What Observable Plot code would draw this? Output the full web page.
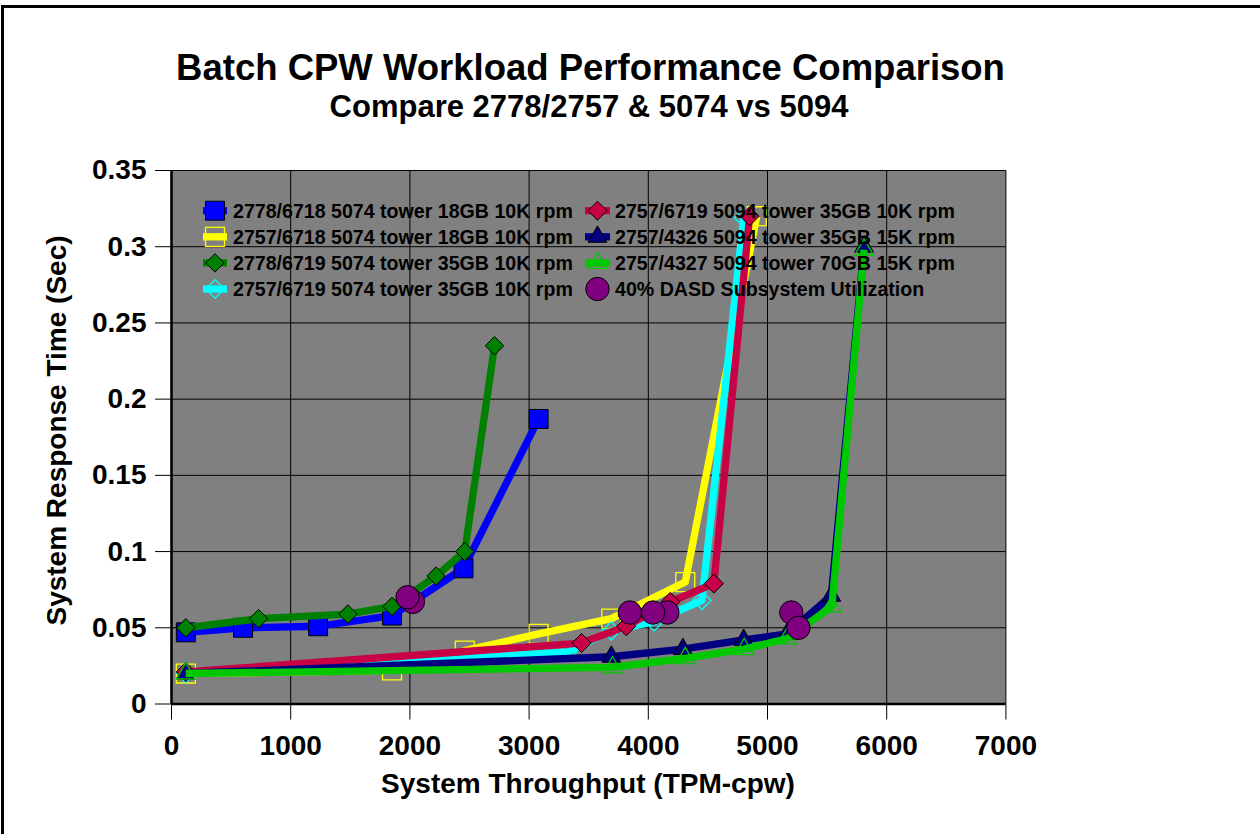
<!DOCTYPE html>
<html>
<head>
<meta charset="utf-8">
<script src="https://cdn.jsdelivr.net/npm/d3@7"></script>
<script src="https://cdn.jsdelivr.net/npm/@observablehq/plot@0.6"></script>
<style>
  body { margin: 0; background: #fff; overflow: hidden; }
  #page { position: relative; width: 1260px; height: 834px; overflow: hidden; background: #fff; }
  #chart { position: absolute; left: 0; top: 0; }
  #overlay { position: absolute; left: 0; top: 0; pointer-events: none; }
  #frame { position: absolute; left: 1px; top: 5px; width: 1400px; height: 1000px; border: 3px solid #000; box-sizing: border-box; pointer-events: none; }
</style>
</head>
<body>
<div id="page">
  <div id="chart"></div>
  <svg id="overlay" width="1260" height="834"></svg>
  <div id="frame"></div>
</div>
<script>
// ---------------- data ----------------
const chartTitle = "Batch CPW Workload Performance Comparison";
const chartSubtitle = "Compare 2778/2757 & 5074 vs 5094";
const xTitle = "System Throughput (TPM-cpw)";
const yTitle = "System Response Time (Sec)";

const seriesNames = [
  "2778/6718 5074 tower 18GB 10K rpm",
  "2757/6718 5074 tower 18GB 10K rpm",
  "2778/6719 5074 tower 35GB 10K rpm",
  "2757/6719 5074 tower 35GB 10K rpm",
  "2757/6719 5094 tower 35GB 10K rpm",
  "2757/4326 5094 tower 35GB 15K rpm",
  "2757/4327 5094 tower 70GB 15K rpm",
  "40% DASD Subsystem Utilization"
];

const tput_2778_6718_5074_18GB = [120, 600, 1230, 1850, 2450, 3080];
const resp_2778_6718_5074_18GB = [0.047, 0.050, 0.051, 0.058, 0.089, 0.187];

const tput_2757_6718_5074_18GB = [120, 1850, 2460, 3080, 3690, 4310, 4910];
const resp_2757_6718_5074_18GB = [0.020, 0.022, 0.035, 0.046, 0.056, 0.080, 0.320];

const tput_2778_6719_5074_35GB = [120, 730, 1480, 1850, 2220, 2460, 2710];
const resp_2778_6719_5074_35GB = [0.050, 0.056, 0.059, 0.064, 0.084, 0.100, 0.235];

const tput_2757_6719_5074_35GB = [120, 3320, 3690, 4050, 4450, 4800];
const resp_2757_6719_5074_35GB = [0.020, 0.034, 0.048, 0.054, 0.068, 0.319];

const tput_2757_6719_5094_35GB = [120, 3440, 3815, 4185, 4550, 4850];
const resp_2757_6719_5094_35GB = [0.021, 0.040, 0.051, 0.067, 0.079, 0.320];

const tput_2757_4326_5094_35GB = [120, 3690, 4290, 4800, 5165, 5535, 5810];
const resp_2757_4326_5094_35GB = [0.020, 0.031, 0.036, 0.042, 0.046, 0.071, 0.300];

const tput_2757_4327_5094_70GB = [120, 3700, 4310, 4805, 5165, 5540, 5810];
const resp_2757_4327_5094_70GB = [0.020, 0.024, 0.030, 0.036, 0.043, 0.064, 0.298];

const tput_dasd40 = [2025, 1980, 3845, 4160, 4040, 5200, 5260];
const resp_dasd40 = [0.067, 0.070, 0.060, 0.060, 0.060, 0.060, 0.050];

const xTicks = [0, 1000, 2000, 3000, 4000, 5000, 6000, 7000];
const xTickLabels = ["0", "1000", "2000", "3000", "4000", "5000", "6000", "7000"];
const yTicks = [0, 0.05, 0.1, 0.15, 0.2, 0.25, 0.3, 0.35];
const yTickLabels = ["0", "0.05", "0.1", "0.15", "0.2", "0.25", "0.3", "0.35"];

// ---------------- build table ----------------
const seriesX = [tput_2778_6718_5074_18GB, tput_2757_6718_5074_18GB, tput_2778_6719_5074_35GB, tput_2757_6719_5074_35GB,
                 tput_2757_6719_5094_35GB, tput_2757_4326_5094_35GB, tput_2757_4327_5094_70GB, tput_dasd40];
const seriesY = [resp_2778_6718_5074_18GB, resp_2757_6718_5074_18GB, resp_2778_6719_5074_35GB, resp_2757_6719_5074_35GB,
                 resp_2757_6719_5094_35GB, resp_2757_4326_5094_35GB, resp_2757_4327_5094_70GB, resp_dasd40];
const table = seriesNames.map((name, i) => seriesX[i].map((x, j) => ({series: name, x, y: seriesY[i][j]})));

// ---------------- styles ----------------
const look = [
  {color: "#0000FF", symbol: "square",    r: 10.7, fill: "#0000FF", mstroke: "#000",    msw: 1,   line: true},
  {color: "#FFFF00", symbol: "square",    r: 10.7, fill: "none",    mstroke: "#FFFF00", msw: 1.3, line: true},
  {color: "#008000", symbol: "diamond2",  r: 8.3,  fill: "#008000", mstroke: "#000",    msw: 1,   line: true},
  {color: "#00FFFF", symbol: "diamond2",  r: 8.3,  fill: "none",    mstroke: "#00FFFF", msw: 1.3, line: true},
  {color: "#C80046", symbol: "diamond2",  r: 8.6,  fill: "#C80046", mstroke: "#000",    msw: 1,   line: true},
  {color: "#000080", symbol: "triangle2", r: 9,    fill: "#000080", mstroke: "#000",    msw: 1,   line: true},
  {color: "#00C800", symbol: "triangle2", r: 9,    fill: "none",    mstroke: "#00C800", msw: 1.3, line: true},
  {color: "#800080", symbol: "circle",    r: 11.7, fill: "#800080", mstroke: "#000",    msw: 1,   line: false}
];
const FONT = '"Liberation Sans", Arial, Helvetica, sans-serif';
const lineW = 7.3;

// ---------------- plot ----------------
const marks = [
  Plot.frame({fill: "#808080", stroke: null}),
  Plot.gridX({ticks: xTicks, stroke: "#000", strokeOpacity: 1, strokeWidth: 1}),
  Plot.gridY({ticks: yTicks, stroke: "#000", strokeOpacity: 1, strokeWidth: 1})
];
table.forEach((d, i) => {
  const L = look[i];
  if (L.line) marks.push(Plot.line(d, {x: "x", y: "y", stroke: L.color, strokeWidth: lineW, strokeLinejoin: "round", strokeLinecap: "butt"}));
  marks.push(Plot.dot(d, {x: "x", y: "y", symbol: L.symbol, r: L.r, fill: L.fill, stroke: L.mstroke, strokeWidth: L.msw}));
});
marks.push(Plot.ruleX([0], {stroke: "#000", strokeWidth: 2.6}));
marks.push(Plot.ruleY([0], {stroke: "#000", strokeWidth: 2.6}));

const lookup = (ticks, labels) => d => { const k = ticks.findIndex(t => Math.abs(t - d) < 1e-9); return k < 0 ? "" : labels[k]; };

const chart = Plot.plot({
  width: 1260, height: 834,
  marginLeft: 171, marginRight: 254.6, marginTop: 170, marginBottom: 130.5,
  style: {fontFamily: FONT, fontSize: "28px", fontWeight: "bold", background: "transparent", color: "#000", overflow: "visible"},
  x: {domain: [0, 7000], ticks: xTicks, tickFormat: lookup(xTicks, xTickLabels), tickSize: 16, tickPadding: 15, label: null},
  y: {domain: [0, 0.35], ticks: yTicks, tickFormat: lookup(yTicks, yTickLabels), tickSize: 16, tickPadding: 9, label: null},
  marks
});
document.getElementById("chart").appendChild(chart);

// ---------------- titles & legend overlay ----------------
const ov = d3.select("#overlay").style("font-family", FONT).style("font-weight", "bold");
ov.append("text").attr("x", 590.5).attr("y", 80).attr("text-anchor", "middle").attr("font-size", 36.5).text(chartTitle);
ov.append("text").attr("x", 589).attr("y", 116.5).attr("text-anchor", "middle").attr("font-size", 31).text(chartSubtitle);
ov.append("text").attr("x", 588).attr("y", 793).attr("text-anchor", "middle").attr("font-size", 28).text(xTitle);
ov.append("text").attr("transform", "translate(66,430.5) rotate(-90)").attr("text-anchor", "middle").attr("font-size", 28).text(yTitle);

const symMap = {square: d3.symbolSquare, diamond2: d3.symbolDiamond2, triangle2: d3.symbolTriangle2, circle: d3.symbolCircle};
const legendCols = [{stub0: 203, stub1: 227, mx: 215, tx: 233}, {stub0: 585, stub1: 610, mx: 597.5, tx: 615}];
seriesNames.forEach((name, i) => {
  const col = legendCols[Math.floor(i / 4)];
  const cy = 210.7 + (i % 4) * 26.1;
  const L = look[i];
  const g = ov.append("g");
  if (L.line) g.append("line").attr("x1", col.stub0).attr("x2", col.stub1).attr("y1", cy).attr("y2", cy)
    .attr("stroke", L.color).attr("stroke-width", lineW);
  g.append("path").attr("transform", `translate(${col.mx},${cy})`)
    .attr("d", d3.symbol(symMap[L.symbol], Math.PI * L.r * L.r)())
    .attr("fill", L.fill).attr("stroke", L.mstroke).attr("stroke-width", L.msw);
  g.append("text").attr("x", col.tx).attr("y", cy + 7.3).attr("font-size", 19.6).text(name);
});
</script>
</body>
</html>
